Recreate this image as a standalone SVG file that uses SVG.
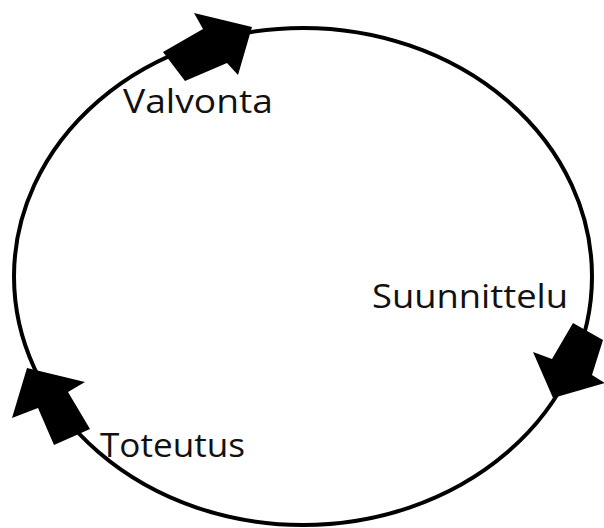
<svg xmlns="http://www.w3.org/2000/svg" width="604" height="528" viewBox="0 0 604 528">
<style>
.lbl{font-family:"Open Sans","Noto Sans","DejaVu Sans",sans-serif;font-size:32px;fill:#111}
.arr{fill:#000}
</style>
<rect width="604" height="528" fill="#fff"/>
<g id="connectors">
<ellipse cx="303" cy="276.5" rx="289" ry="248.5" fill="none" stroke="#000" stroke-width="4"/>
<polygon class="arr" points="252,27 238,75 227,63 185,81 163,52 203,29 194,13"/>
<polygon class="arr" points="553,398 533,352 552,359 573,323 603,340 592,375 605,383"/>
<polygon class="arr" points="27,368 85,382 68,392 90,429 54,445 38,408 12,418"/>
</g>
<g id="valvonta"><text class="lbl" x="123" y="113" textLength="150" lengthAdjust="spacingAndGlyphs">Valvonta</text></g>
<g id="suunnittelu"><text class="lbl" x="372" y="308" textLength="196" lengthAdjust="spacingAndGlyphs">Suunnittelu</text></g>
<g id="toteutus"><text class="lbl" x="100" y="457" textLength="145" lengthAdjust="spacingAndGlyphs">Toteutus</text></g>
</svg>
